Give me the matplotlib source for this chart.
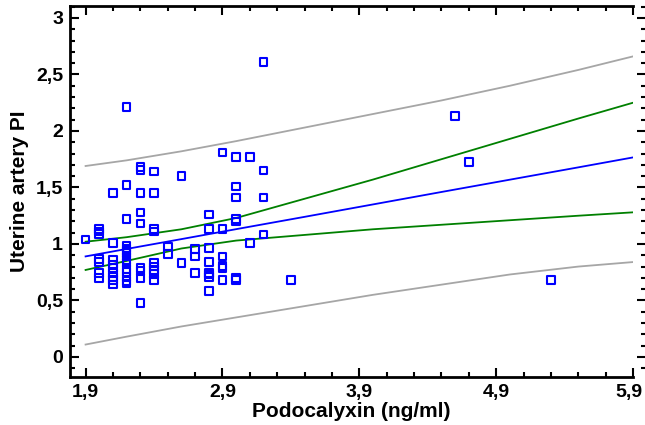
import matplotlib
matplotlib.use("Agg")
import matplotlib.pyplot as plt
import matplotlib.transforms as mtransforms
from matplotlib.ticker import FixedLocator, MultipleLocator, FuncFormatter

# scatter data, grouped by podocalyxin value
podo = ([1.9]
        + [2.0] * 7
        + [2.1] * 9
        + [2.2] * 15
        + [2.3] * 9
        + [2.4] * 9
        + [2.5] * 2
        + [2.6] * 2
        + [2.7] * 3
        + [2.8] * 8
        + [2.9] * 6
        + [3.0] * 7
        + [3.1] * 2
        + [3.2] * 4
        + [3.4, 4.6, 4.7, 5.3])
uterine_pi = ([1.04]
              + [1.13, 1.11, 1.09, 0.865, 0.84, 0.745, 0.70]
              + [1.45, 1.01, 0.86, 0.82, 0.79, 0.745, 0.71, 0.68, 0.64]
              + [2.21, 1.52, 1.22, 0.985, 0.96, 0.94, 0.92, 0.89, 0.86, 0.83,
                 0.78, 0.75, 0.71, 0.67, 0.65]
              + [1.68, 1.655, 1.45, 1.28, 1.18, 0.79, 0.76, 0.70, 0.475]
              + [1.64, 1.45, 1.13, 1.11, 0.83, 0.80, 0.77, 0.735, 0.68]
              + [0.976, 0.91]
              + [1.60, 0.83]
              + [0.955, 0.89, 0.745]
              + [1.26, 1.13, 0.967, 0.84, 0.745, 0.73, 0.71, 0.585]
              + [1.81, 1.13, 0.89, 0.805, 0.785, 0.68]
              + [1.77, 1.51, 1.41, 1.22, 1.20, 0.70, 0.68]
              + [1.77, 1.006]
              + [2.61, 1.65, 1.41, 1.085]
              + [0.68, 2.13, 1.726, 0.68])

# regression line, 95% confidence and prediction bands
fit_x = [1.9, 2.2, 2.6, 3.0, 3.5, 4.0, 4.5, 5.0, 5.5, 5.9]
fit_y = [0.89, 0.956, 1.043, 1.131, 1.24, 1.35, 1.46, 1.569, 1.678, 1.766]
ci_upper = [1.02, 1.06, 1.13, 1.23, 1.40, 1.57, 1.75, 1.93, 2.11, 2.25]
ci_lower = [0.77, 0.85, 0.96, 1.03, 1.08, 1.13, 1.17, 1.21, 1.25, 1.28]
pi_upper = [1.69, 1.74, 1.82, 1.91, 2.03, 2.15, 2.27, 2.40, 2.54, 2.66]
pi_lower = [0.11, 0.18, 0.27, 0.35, 0.45, 0.55, 0.64, 0.73, 0.80, 0.84]

x_ticks = [1.9, 2.9, 3.9, 4.9, 5.9]
y_ticks = [0, 0.5, 1, 1.5, 2, 2.5, 3]

plt.rcParams['font.family'] = ['Liberation Sans', 'DejaVu Sans']

fig = plt.figure(figsize=(6.45, 4.25), dpi=100)
ax = fig.add_axes([0.1085, 0.113, 0.873, 0.874])

ax.plot(fit_x, pi_upper, color='#a6a6a6', lw=1.3)
ax.plot(fit_x, pi_lower, color='#a6a6a6', lw=1.3)
ax.plot(fit_x, ci_upper, color='#008000', lw=1.3)
ax.plot(fit_x, ci_lower, color='#008000', lw=1.3)
ax.plot(fit_x, fit_y, color='#0000ff', lw=1.3)
ax.scatter(podo, uterine_pi, marker='s', s=30, facecolors='none',
           edgecolors='#0000ff', linewidths=1.5, zorder=5)

ax.set_xlim(1.786, 5.9)
ax.set_ylim(-0.177, 3.11)

ax.xaxis.set_major_locator(FixedLocator(x_ticks))
ax.xaxis.set_minor_locator(MultipleLocator(0.2, offset=0.1))
ax.yaxis.set_major_locator(FixedLocator(y_ticks))
ax.yaxis.set_minor_locator(MultipleLocator(0.1))
comma = FuncFormatter(lambda v, p: f"{v:g}".replace('.', ','))
ax.xaxis.set_major_formatter(comma)
ax.yaxis.set_major_formatter(comma)

for side in ['left', 'bottom', 'top']:
    ax.spines[side].set_linewidth(2)
ax.spines['right'].set_position(('outward', 9.4))
ax.spines['right'].set_color('none')

ax.tick_params(which='both', direction='in', top=True, right=True,
               width=1.5, color='black')
ax.tick_params(which='major', length=6.5)
ax.tick_params(which='minor', length=3.5)
ax.tick_params(axis='both', labelsize=14, pad=5)
for lbl in ax.get_xticklabels() + ax.get_yticklabels():
    lbl.set_fontweight('bold')

# the last x label sits hard against the right edge in the original
shift = mtransforms.ScaledTranslation(-4 / 100, 0, fig.dpi_scale_trans)
last = ax.get_xticklabels()[-1]
last.set_transform(last.get_transform() + shift)

ax.set_xlabel('Podocalyxin (ng/ml)', fontsize=15, fontweight='bold', labelpad=1)
ax.set_ylabel('Uterine artery PI', fontsize=15, fontweight='bold', labelpad=5)

fig.savefig('out.png', dpi=100)
